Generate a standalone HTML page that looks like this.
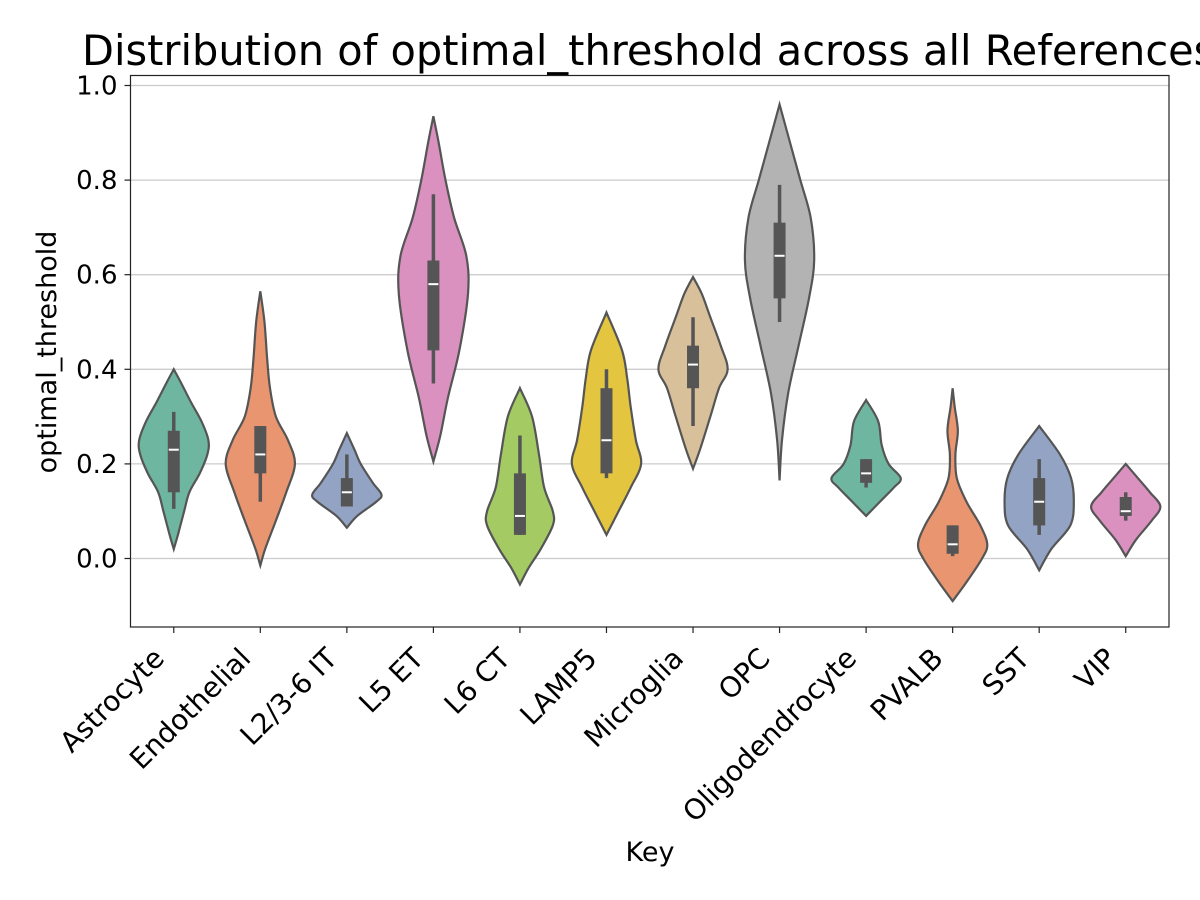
<!DOCTYPE html>
<html><head><meta charset="utf-8"><style>
html,body{margin:0;padding:0;background:#fff;overflow:hidden;width:1200px;height:900px}
svg text{font-family:"DejaVu Sans","Liberation Sans",sans-serif;fill:#000}
</style></head><body>
<svg id="chart" width="1200" height="900">
<text x="82" y="65" font-size="41.5">Distribution of optimal_threshold across all References</text>
<g id="grid"></g><g id="violins"></g>
<rect x="130.5" y="75.5" width="1038.5" height="551.5" fill="none" stroke="#222" stroke-width="1.2"/>
<g id="axes"></g>
<text x="650" y="861" font-size="27" text-anchor="middle">Key</text>
<text transform="translate(56,352) rotate(-90)" font-size="27" text-anchor="middle">optimal_threshold</text>
</svg>
<script>
const categories=["Astrocyte","Endothelial","L2/3-6 IT","L5 ET","L6 CT","LAMP5","Microglia","OPC","Oligodendrocyte","PVALB","SST","VIP"];
const yTicks=[0.0,0.2,0.4,0.6,0.8,1.0];
const yTickLabels=["0.0","0.2","0.4","0.6","0.8","1.0"];
// density profiles: [value, relative half-width]
const profiles=[
[[0.02,0],[0.05,0.12],[0.1,0.3],[0.14,0.45],[0.18,0.75],[0.22,0.97],[0.25,1.0],[0.29,0.8],[0.33,0.5],[0.37,0.22],[0.40,0]],
[[-0.015,0],[0.02,0.14],[0.08,0.45],[0.14,0.75],[0.2,1.0],[0.25,0.8],[0.3,0.45],[0.36,0.28],[0.42,0.2],[0.5,0.12],[0.565,0]],
[[0.065,0],[0.09,0.3],[0.12,0.85],[0.135,1.0],[0.16,0.75],[0.2,0.4],[0.23,0.22],[0.265,0]],
[[0.205,0],[0.26,0.2],[0.34,0.42],[0.44,0.75],[0.56,1.0],[0.64,0.95],[0.72,0.6],[0.8,0.35],[0.88,0.15],[0.935,0]],
[[-0.055,0],[-0.02,0.25],[0.02,0.6],[0.07,0.95],[0.1,0.95],[0.15,0.7],[0.22,0.55],[0.3,0.35],[0.36,0]],
[[0.05,0],[0.1,0.35],[0.15,0.7],[0.2,1.0],[0.25,0.85],[0.32,0.7],[0.38,0.6],[0.44,0.45],[0.52,0]],
[[0.19,0],[0.23,0.2],[0.3,0.5],[0.36,0.75],[0.4,1.0],[0.45,0.8],[0.51,0.5],[0.56,0.25],[0.595,0]],
[[0.165,0],[0.25,0.07],[0.35,0.25],[0.45,0.55],[0.55,0.85],[0.63,1.0],[0.72,0.9],[0.8,0.6],[0.88,0.3],[0.96,0]],
[[0.09,0],[0.12,0.4],[0.15,0.8],[0.17,1.0],[0.2,0.65],[0.24,0.45],[0.29,0.35],[0.335,0]],
[[-0.09,0],[-0.05,0.4],[0.0,0.85],[0.03,1.0],[0.07,0.8],[0.12,0.4],[0.17,0.12],[0.22,0.08],[0.27,0.15],[0.32,0.06],[0.36,0]],
[[-0.025,0],[0.02,0.35],[0.07,0.9],[0.12,1.0],[0.17,0.92],[0.22,0.6],[0.28,0]],
[[0.005,0],[0.04,0.3],[0.08,0.75],[0.11,1.0],[0.14,0.7],[0.17,0.35],[0.2,0]]
];
const q1=[0.14,0.18,0.11,0.44,0.05,0.18,0.36,0.55,0.16,0.01,0.07,0.09];
const q3=[0.27,0.28,0.17,0.63,0.18,0.36,0.45,0.71,0.21,0.07,0.17,0.13];
const whiskLo=[0.105,0.12,0.11,0.37,0.05,0.17,0.28,0.50,0.15,0.005,0.05,0.08];
const whiskHi=[0.31,0.28,0.22,0.77,0.26,0.40,0.51,0.79,0.21,0.07,0.21,0.14];
const medians=[0.23,0.22,0.14,0.58,0.09,0.25,0.41,0.64,0.18,0.03,0.12,0.10];
const colors=["#6fb6a0","#e9956f","#93a3c4","#da91c0","#a3ca63","#e4c540","#d8c09a","#b3b3b3","#6fb6a0","#e9956f","#93a3c4","#da91c0"];

const X0=130.5,X1=1169,Y0=558.5,YSCALE=473;
const step=(X1-X0)/categories.length;
const xPos=i=>X0+step*(i+0.5);
const yPos=v=>Y0-v*YSCALE;
const maxHalf=step*0.4;
const ns="http://www.w3.org/2000/svg";
const mk=(t,a,p)=>{const e=document.createElementNS(ns,t);for(const k in a)e.setAttribute(k,a[k]);p.appendChild(e);return e;};
const grid=document.getElementById('grid'),axes=document.getElementById('axes'),vg=document.getElementById('violins');
yTicks.forEach((t,i)=>{
  const y=yPos(t);
  const g=mk('line',{x1:X0,x2:X1,y1:y,y2:y,stroke:'#cccccc','stroke-width':1.3},grid);
  
  
  const tk=mk('line',{x1:X0-6,x2:X0,y1:y,y2:y,stroke:'#222','stroke-width':1.2},axes);
  
  
  const tx=mk('text',{x:X0-13,y:y+9,'font-size':26,'text-anchor':'end'},axes);
  tx.textContent=yTickLabels[i];
  
  
});
function smooth(pts){
  let d=`M${pts[0][0]},${pts[0][1]}`;
  for(let i=0;i<pts.length-1;i++){
    const p0=pts[Math.max(0,i-1)],p1=pts[i],p2=pts[i+1],p3=pts[Math.min(pts.length-1,i+2)];
    const c1=[p1[0]+(p2[0]-p0[0])/6,p1[1]+(p2[1]-p0[1])/6];
    const c2=[p2[0]-(p3[0]-p1[0])/6,p2[1]-(p3[1]-p1[1])/6];
    d+=`C${c1[0]},${c1[1]} ${c2[0]},${c2[1]} ${p2[0]},${p2[1]}`;
  }
  return d;
}
categories.forEach((c,i)=>{
  const cx=xPos(i);
  const prof=profiles[i];
  const right=prof.map(p=>[cx+p[1]*maxHalf,yPos(p[0])]);
  const left=prof.slice().reverse().map(p=>[cx-p[1]*maxHalf,yPos(p[0])]);
  const d=smooth(right)+smooth(left).replace(/^M[^C]*/,'')+'Z';
  const v=mk('path',{d:d,fill:colors[i],stroke:'#555','stroke-width':2.2},vg);
  
  
  const w=mk('line',{x1:cx,x2:cx,y1:yPos(whiskLo[i]),y2:yPos(whiskHi[i]),stroke:'#555','stroke-width':3.5},vg);
  
  
  const b=mk('rect',{x:cx-6,y:yPos(q3[i]),width:12,height:yPos(q1[i])-yPos(q3[i]),fill:'#555'},vg);
  
  
  const m=mk('line',{x1:cx-5,x2:cx+5,y1:yPos(medians[i]),y2:yPos(medians[i]),stroke:'#fff','stroke-width':2},vg);
  
  
  const tk=mk('line',{x1:cx,x2:cx,y1:627,y2:633,stroke:'#222','stroke-width':1.2},axes);
  
  
  const tx=mk('text',{transform:`translate(${cx-8},${660}) rotate(-45)`,'font-size':28,'text-anchor':'end'},axes);
  tx.textContent=c;
  
  
});
</script>
</body></html>
